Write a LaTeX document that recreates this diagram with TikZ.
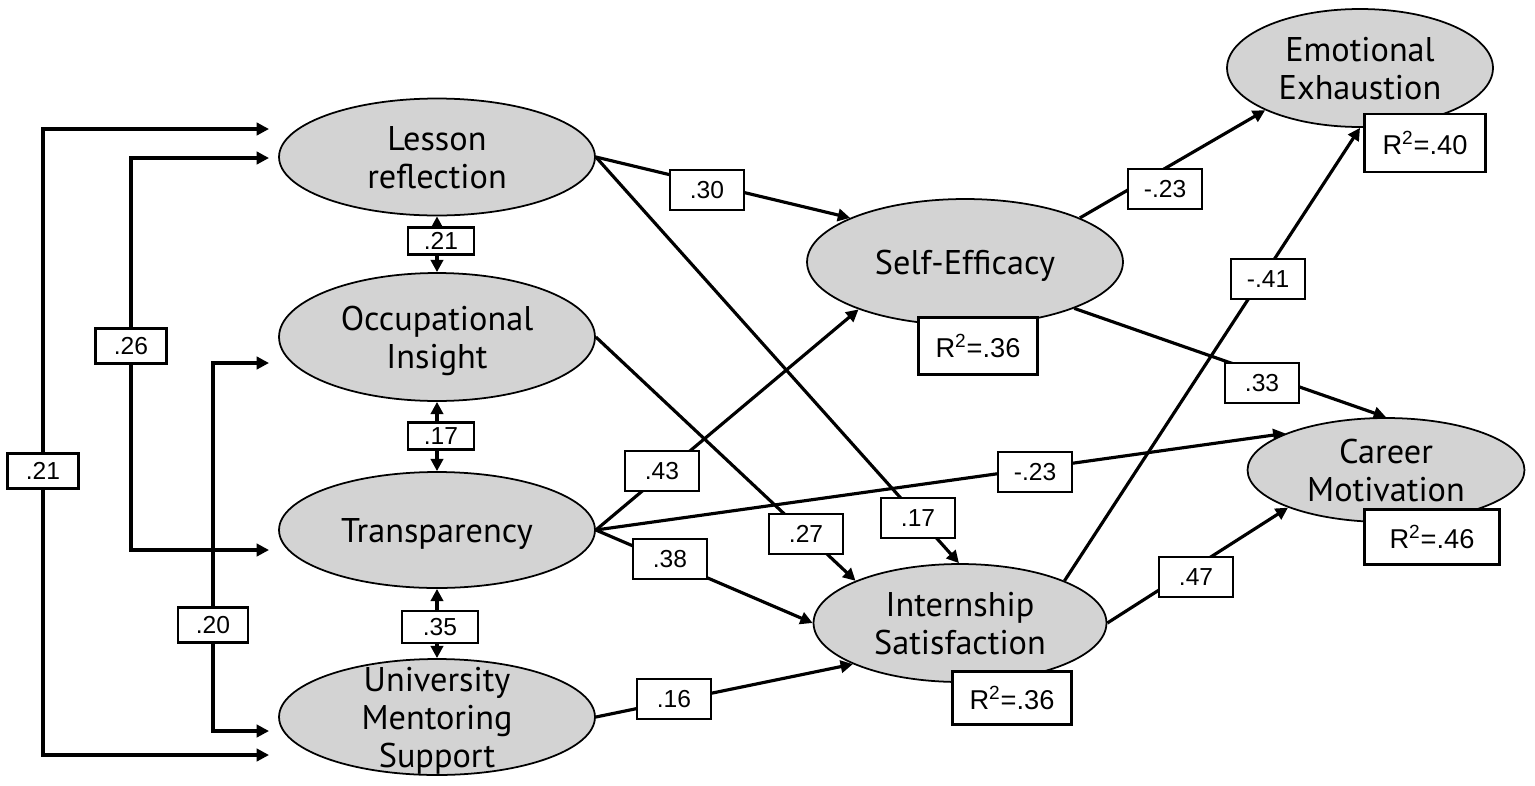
\documentclass[tikz,border=0pt]{standalone}
\usepackage{fontspec}
\setmainfont{Liberation Sans}
\newfontfamily\latfont{PT Sans}
\usetikzlibrary{shapes.geometric,arrows.meta,backgrounds}
\definecolor{latgray}{RGB}{211,211,211}
\newcommand\latlabel[1]{\smash{\raisebox{-8pt}{\begin{tabular}{@{}c@{}}#1\end{tabular}}}}

\begin{document}
\begin{tikzpicture}[x=0.02cm,y=-0.02cm,
    latent/.style={shape=ellipse,draw,line width=1pt,fill=latgray,inner sep=0pt,font=\latfont\fontsize{19.5}{21.8}\selectfont},
    coef/.style={shape=rectangle,draw,line width=1.6pt,fill=white,inner sep=0pt,minimum width=1.48cm,minimum height=0.8cm,font=\fontsize{14}{16}\selectfont},
    rsq/.style={coef,font=\fontsize{15.5}{18}\selectfont},
    effect/.style={line width=1.8pt,-{Triangle[length=7pt,width=7pt]}},
    cov/.style={line width=1.8pt,{Triangle[length=7pt,width=7pt]}-{Triangle[length=7pt,width=7pt]}}]
  \useasboundingbox (0,0) rectangle (1535,785);
  % latent variables
  \node[latent,minimum width=6.32cm,minimum height=2.34cm] (LR) at (437,157) {\latlabel{Lesson\\reflection}};
  \node[latent,minimum width=6.32cm,minimum height=2.56cm] (OI) at (437,337) {\latlabel{Occupational\\Insight}};
  \node[latent,minimum width=6.32cm,minimum height=2.32cm] (T) at (437,530) {\latlabel{Transparency}};
  \node[latent,minimum width=6.32cm,minimum height=2.32cm] (UMS) at (437,717) {\latlabel{University\\Mentoring\\Support}};
  \node[latent,minimum width=6.32cm,minimum height=2.52cm] (SE) at (965,262) {\latlabel{Self-Efficacy}};
  \node[latent,minimum width=5.86cm,minimum height=2.36cm] (IS) at (960,623) {\latlabel{Internship\\Satisfaction}};
  \node[latent,minimum width=5.32cm,minimum height=2.36cm] (EE) at (1360,68) {\latlabel{Emotional\\Exhaustion}};
  \node[latent,minimum width=5.54cm,minimum height=2.08cm] (CM) at (1386,470) {\latlabel{Career\\Motivation}};
  % explained variance
  \node[rsq,minimum width=2.38cm,minimum height=1.14cm] (rSE) at (978,346) {R\textsuperscript{2}=.36};
  \node[rsq,minimum width=2.38cm,minimum height=1.06cm] (rIS) at (1012,698) {R\textsuperscript{2}=.36};
  \node[rsq,minimum width=2.42cm,minimum height=1.16cm] (rEE) at (1425,143) {R\textsuperscript{2}=.40};
  \node[rsq,minimum width=2.7cm,minimum height=1.1cm] (rCM) at (1432,537) {R\textsuperscript{2}=.46};
  % correlations
  \node[coef,minimum width=1.42cm,minimum height=0.7cm] (c21) at (43,471) {.21};
  \node[coef,minimum width=1.42cm,minimum height=0.7cm] (c26) at (131,346) {.26};
  \node[coef,minimum width=1.4cm,minimum height=0.7cm] (c20) at (213,625) {.20};
  \node[coef,minimum width=1.32cm,minimum height=0.54cm] (c21v) at (441,241) {.21};
  \node[coef,minimum width=1.32cm,minimum height=0.54cm] (c17v) at (441,436) {.17};
  \node[coef,minimum width=1.52cm,minimum height=0.64cm] (c35v) at (440,627) {.35};
  % path coefficients
  \node[coef] (c30) at (707,190) {.30};
  \node[coef] (c17) at (918,518) {.17};
  \node[coef] (c27) at (806,534) {.27};
  \node[coef] (c43) at (662,471) {.43};
  \node[coef] (c23b) at (1035,472) {-.23};
  \node[coef] (c38) at (670,559) {.38};
  \node[coef] (c16) at (674,699) {.16};
  \node[coef] (c23a) at (1165,189) {-.23};
  \node[coef] (c41) at (1268,279) {-.41};
  \node[coef] (c33) at (1262,383) {.33};
  \node[coef] (c47) at (1196,577) {.47};
  \coordinate (a1) at (269,129);
  \coordinate (a2) at (269,158);
  \coordinate (a3) at (269,363);
  \coordinate (a4) at (269,550);
  \coordinate (a5) at (269,731);
  \coordinate (a6) at (269,755);
  \begin{pgfonlayer}{background}
    \draw[cov] (a1) -| (c21.center) |- (a6);
    \draw[cov] (a2) -| (c26.center) |- (a4);
    \draw[cov] (a3) -| (c20.center) |- (a5);
    \draw[cov] (LR.south) -- (OI.north);
    \draw[cov] (OI.south) -- (T.north);
    \draw[cov] (T.south) -- (UMS.north);
    \draw[effect] (LR.east) -- (SE.159);
    \draw[effect] (LR.east) -- (IS.91);
    \draw[effect] (OI.east) -- (IS.158);
    \draw[effect] (T.east) -- (SE.204);
    \draw[effect] (T.east) -- (CM.160);
    \draw[effect] (T.east) -- (IS.west);
    \draw[effect] (UMS.east) -- (IS.201);
    \draw[effect] (SE.21) -- (EE.204);
    \draw[effect] (SE.-23) -- (CM.north);
    \draw[effect] (IS.22) -- (EE.south);
    \draw[effect] (IS.east) -- (CM.201);
  \end{pgfonlayer}
\end{tikzpicture}
\end{document}
